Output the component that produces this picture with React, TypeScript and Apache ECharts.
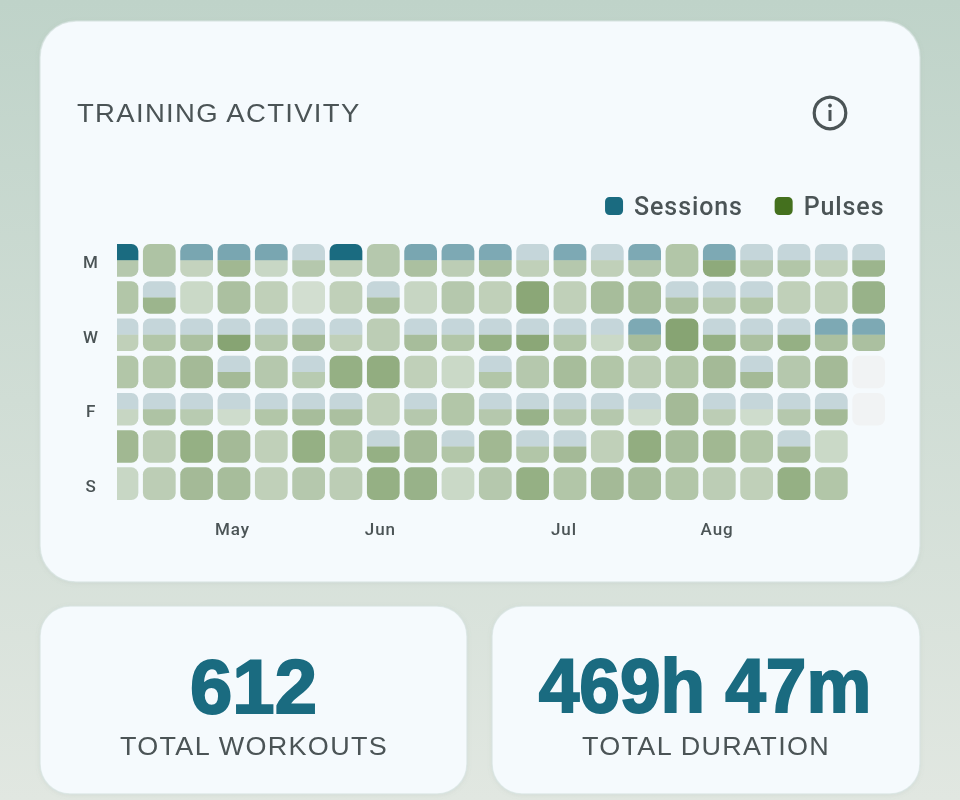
import React, { useEffect, useRef } from 'react';
import * as echarts from 'echarts';

const weekdays = ['M', 'T', 'W', 'T', 'F', 'S', 'S'];
const monthTicks = [
  { at: 3.46, label: 'May' },
  { at: 7.42, label: 'Jun' },
  { at: 12.34, label: 'Jul' },
  { at: 16.44, label: 'Aug' },
];

// one row per weekday, one column per week. 0 = no sessions that day
const sessions = [
  [100, 0, 54, 54, 54, 17, 100, 0, 54, 52, 52, 17, 52, 17, 52, 0, 52, 17, 17, 17, 17],
  [0, 17, 0, 0, 0, 0, 0, 17, 0, 0, 0, 0, 0, 0, 0, 17, 17, 17, 0, 0, 0],
  [17, 17, 17, 17, 17, 17, 17, 0, 17, 17, 17, 17, 17, 17, 52, 0, 17, 17, 17, 52, 52],
  [0, 0, 0, 17, 0, 17, 0, 0, 0, 0, 17, 0, 0, 0, 0, 0, 0, 17, 0, 0, 0],
  [17, 17, 17, 17, 17, 17, 17, 0, 17, 0, 17, 17, 17, 17, 17, 0, 17, 17, 17, 17, 0],
  [0, 0, 0, 0, 0, 0, 0, 17, 0, 17, 0, 17, 17, 0, 0, 0, 0, 0, 17, 0, 0],
  [0, 0, 0, 0, 0, 0, 0, 0, 0, 0, 0, 0, 0, 0, 0, 0, 0, 0, 0, 0, 0],
];

// 0 = day without data (grey cell), null = day not reached yet
const pulses = [
  [36, 40, 28, 48, 25, 36, 30, 36, 42, 32, 42, 30, 36, 30, 36, 38, 58, 36, 38, 30, 50],
  [38, 50, 24, 42, 30, 20, 30, 44, 26, 36, 30, 60, 30, 44, 44, 42, 36, 38, 30, 30, 52],
  [30, 38, 42, 62, 36, 46, 30, 32, 44, 38, 54, 60, 38, 24, 44, 62, 54, 42, 54, 42, 42],
  [38, 38, 46, 46, 36, 34, 54, 56, 30, 24, 38, 36, 44, 38, 32, 38, 46, 46, 36, 46, 0],
  [26, 40, 34, 22, 38, 44, 42, 30, 36, 38, 36, 52, 36, 36, 22, 46, 32, 22, 36, 46, 0],
  [48, 32, 54, 46, 30, 54, 38, 54, 46, 38, 48, 38, 46, 30, 56, 44, 48, 38, 46, 24, null],
  [25, 32, 46, 44, 30, 36, 32, 54, 52, 24, 36, 54, 38, 46, 44, 38, 32, 30, 54, 38, null],
];

const totalWorkouts = '612';
const totalDuration = '469h 47m';

const TEAL = '#1a6b80';
const GREEN = '#44701e';
const TEXT = '#4b5456';
const CARD = '#f5fafd';

const toCells = (rows: (number | null)[][]) =>
  rows.flatMap((row, r) => row.map((v, c) => [c, r, v]));

const cellRect = (api: any) => {
  const center = api.coord([api.value(0) + 0.5, api.value(1)]);
  const size = api.size([1, 1]);
  const w = size[0] - 4.6;
  const h = size[1] - 4.6;
  return { x: center[0] - w / 2, y: center[1] - h / 2, w, h };
};

const renderSessions = (_: any, api: any) => {
  const v = api.value(2);
  if (!v) return null;
  const { x, y, w, h } = cellRect(api);
  const shape = { x, y, width: w, height: h / 2, r: [7, 7, 0, 0] };
  // the teal sits on a neutral tile, the reference's blues are greyer than teal on the card
  return {
    type: 'group',
    children: [
      { type: 'rect', shape, style: { fill: '#e9ecec' } },
      { type: 'rect', shape, style: { fill: TEAL, opacity: v / 100 } },
    ],
  };
};

const renderPulses = (params: any, api: any) => {
  const raw = pulses[api.value(1)][api.value(0)];
  if (raw === null) return null;
  const { x, y, w, h } = cellRect(api);
  if (raw === 0) {
    return {
      type: 'rect',
      shape: { x, y, width: w, height: h, r: 7 },
      style: { fill: '#f1f3f4' },
    };
  }
  const split = sessions[api.value(1)][api.value(0)] > 0;
  return {
    type: 'rect',
    shape: split
      ? { x, y: y + h / 2, width: w, height: h / 2, r: [0, 0, 7, 7] }
      : { x, y, width: w, height: h, r: 7 },
    style: { fill: GREEN, opacity: raw / 100 },
  };
};

const card = (x: number, y: number, width: number, height: number, r: number) => ({
  type: 'rect',
  shape: { x, y, width, height, r },
  style: {
    fill: CARD,
    stroke: 'rgba(214,226,224,0.7)',
    lineWidth: 1.5,
    shadowBlur: 4,
    shadowColor: 'rgba(120,140,130,0.12)',
    shadowOffsetY: 1,
  },
});

const bigNumber = (x: number, scaleX: number, text: string) => ({
  type: 'text',
  x,
  y: 686,
  scaleX,
  style: {
    text,
    font: "bold 76px 'Liberation Sans'",
    fill: TEAL,
    stroke: TEAL,
    lineWidth: 2,
    textAlign: 'center',
    textVerticalAlign: 'middle',
  },
});

const caption = (x: number, y: number, scaleX: number, align: string, text: string) => ({
  type: 'text',
  x,
  y,
  scaleX,
  style: {
    text,
    font: "25px 'Liberation Sans'",
    fill: TEXT,
    textAlign: align,
    textVerticalAlign: 'middle',
  },
});

const App = () => {
  const chartRef = useRef<HTMLDivElement>(null);

  useEffect(() => {
    if (!chartRef.current) return;
    const chart = echarts.init(chartRef.current, undefined, { renderer: 'svg' });

    const option: any = {
      animation: false,
      color: [TEAL, GREEN],
      legend: {
        data: ['Sessions', 'Pulses'],
        top: 193.5,
        right: 81,
        padding: 0,
        icon: 'roundRect',
        itemWidth: 18,
        itemHeight: 18,
        itemGap: 39,
        textStyle: { color: TEXT, fontSize: 25, fontWeight: 500, fontFamily: 'Roboto', padding: [0, 0, 0, 6] },
      },
      grid: { left: 117, top: 241.7, width: 770.3, height: 260.6 },
      xAxis: {
        type: 'value',
        min: 0.367,
        max: 21,
        splitLine: { show: false },
        axisLine: { show: false },
        axisTick: { show: false },
        axisLabel: {
          customValues: monthTicks.map((m) => m.at),
          formatter: (v: number) => monthTicks.find((m) => m.at === v)?.label ?? '',
          color: TEXT,
          fontSize: 17,
          fontWeight: 500,
          fontFamily: 'Roboto',
          margin: 18,
        },
      },
      yAxis: {
        type: 'category',
        inverse: true,
        data: weekdays,
        axisLine: { show: false },
        axisTick: { show: false },
        axisLabel: {
          interval: 1,
          align: 'center',
          margin: 26,
          color: TEXT,
          fontSize: 17,
          fontWeight: 500,
          fontFamily: 'Roboto',
          // top aligned with a small line box, puts the letters 2px under the row's centre
          verticalAlign: 'top',
          lineHeight: 4,
        },
      },
      series: [
        {
          name: 'Sessions',
          type: 'custom',
          clip: true,
          itemStyle: { color: TEAL },
          encode: { x: 0, y: 1 },
          data: toCells(sessions),
          renderItem: renderSessions,
        },
        {
          name: 'Pulses',
          type: 'custom',
          clip: true,
          itemStyle: { color: GREEN },
          encode: { x: 0, y: 1 },
          data: toCells(pulses).map(([c, r, v]) => [c, r, v ?? 0]),
          renderItem: renderPulses,
        },
      ],
      graphic: {
        elements: [
          {
            type: 'rect',
            z: -10,
            shape: { x: 0, y: 0, width: 960, height: 800 },
            style: {
              fill: new echarts.graphic.LinearGradient(0, 0, 0, 1, [
                { offset: 0, color: '#bfd3c9' },
                { offset: 1, color: '#e1e7e1' },
              ]),
            },
          },
          card(40, 21, 880, 561, 36),
          card(40, 606, 427, 188, 30),
          card(492, 606, 428, 188, 30),
          caption(77, 113, 1.1, 'left', 'TRAINING ACTIVITY'),
          {
            type: 'circle',
            shape: { cx: 830, cy: 113, r: 15.8 },
            style: { fill: 'none', stroke: TEXT, lineWidth: 3.2 },
          },
          { type: 'circle', shape: { cx: 830, cy: 105.5, r: 1.9 }, style: { fill: TEXT } },
          { type: 'rect', shape: { x: 828.5, y: 110, width: 3, height: 11 }, style: { fill: TEXT } },
          bigNumber(253.5, 1, totalWorkouts),
          bigNumber(705, 0.96, totalDuration),
          caption(254, 746, 1.08, 'center', 'TOTAL WORKOUTS'),
          caption(706, 746, 1.08, 'center', 'TOTAL DURATION'),
        ],
      },
    };

    chart.setOption(option);

    return () => {
      chart.dispose();
    };
  }, []);

  return (
    <>
      {/* ECharts has no letter spacing option, so the tracking comes from CSS */}
      <style>{`
        .training text[style*="Liberation Sans"]:not([style*="bold"]) { letter-spacing: 1.2px; }
        .training text[style*="Roboto"] { letter-spacing: 0.9px; }
      `}</style>
      <div
        ref={chartRef}
        className="training"
        style={{ position: 'fixed', left: 0, top: 0, width: 960, height: 800 }}
      />
    </>
  );
};

export default App;
